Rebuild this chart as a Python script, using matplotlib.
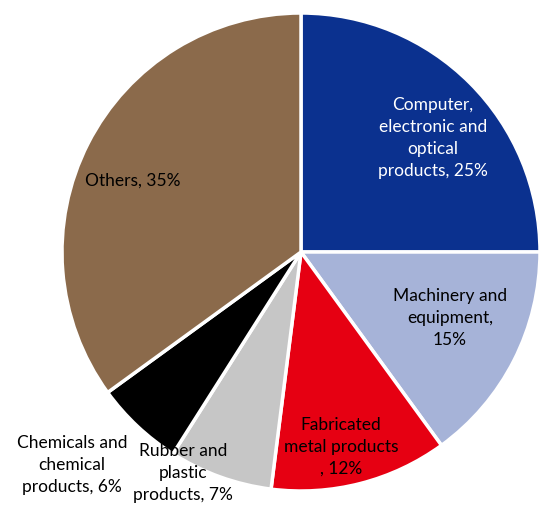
import matplotlib
matplotlib.use("Agg")
import matplotlib.pyplot as plt

# Industry shares, clockwise from 12 o'clock
industries = ["Computer,\nelectronic and\noptical\nproducts", "Machinery and\nequipment,\n",
              "Fabricated\nmetal products\n", "Rubber and\nplastic\nproducts",
              "Chemicals and\nchemical\nproducts", "Others"]
shares = [25, 15, 12, 7, 6, 35]
colors = ["#0b318f", "#a6b3d8", "#e60012", "#c6c6c6", "#000000", "#8b6a4b"]
text_colors = ["white", "black", "black", "black", "black", "black"]

# label anchor points (pixel coords, origin top-left)
label_xy = [(433, 138), (450, 318), (341, 447), (183, 473), (72, 465), (133, 181)]

W, H = 539, 507
plt.rcParams["font.family"] = ["Lato", "DejaVu Sans"]
fig = plt.figure(figsize=(W / 100, H / 100), dpi=100)
ax = fig.add_axes([0, 0, 1, 1])

ax.pie(shares, colors=colors, startangle=90, counterclock=False,
       center=(301, H - 252), radius=239,
       wedgeprops=dict(edgecolor="white", linewidth=2.5))

# pie() resets the limits, so pin them to pixel space afterwards
ax.set_xlim(0, W)
ax.set_ylim(0, H)
ax.set_aspect("equal")
ax.axis("off")

for name, val, (x, y), tc in zip(industries, shares, label_xy, text_colors):
    if "Machinery" in name:
        label = f"{name}{val}%"
    else:
        label = f"{name}, {val}%"
    ax.text(x, H - y, label, ha="center", va="center", fontsize=12.5,
            color=tc, linespacing=1.45)

fig.savefig("out.png", dpi=100)
